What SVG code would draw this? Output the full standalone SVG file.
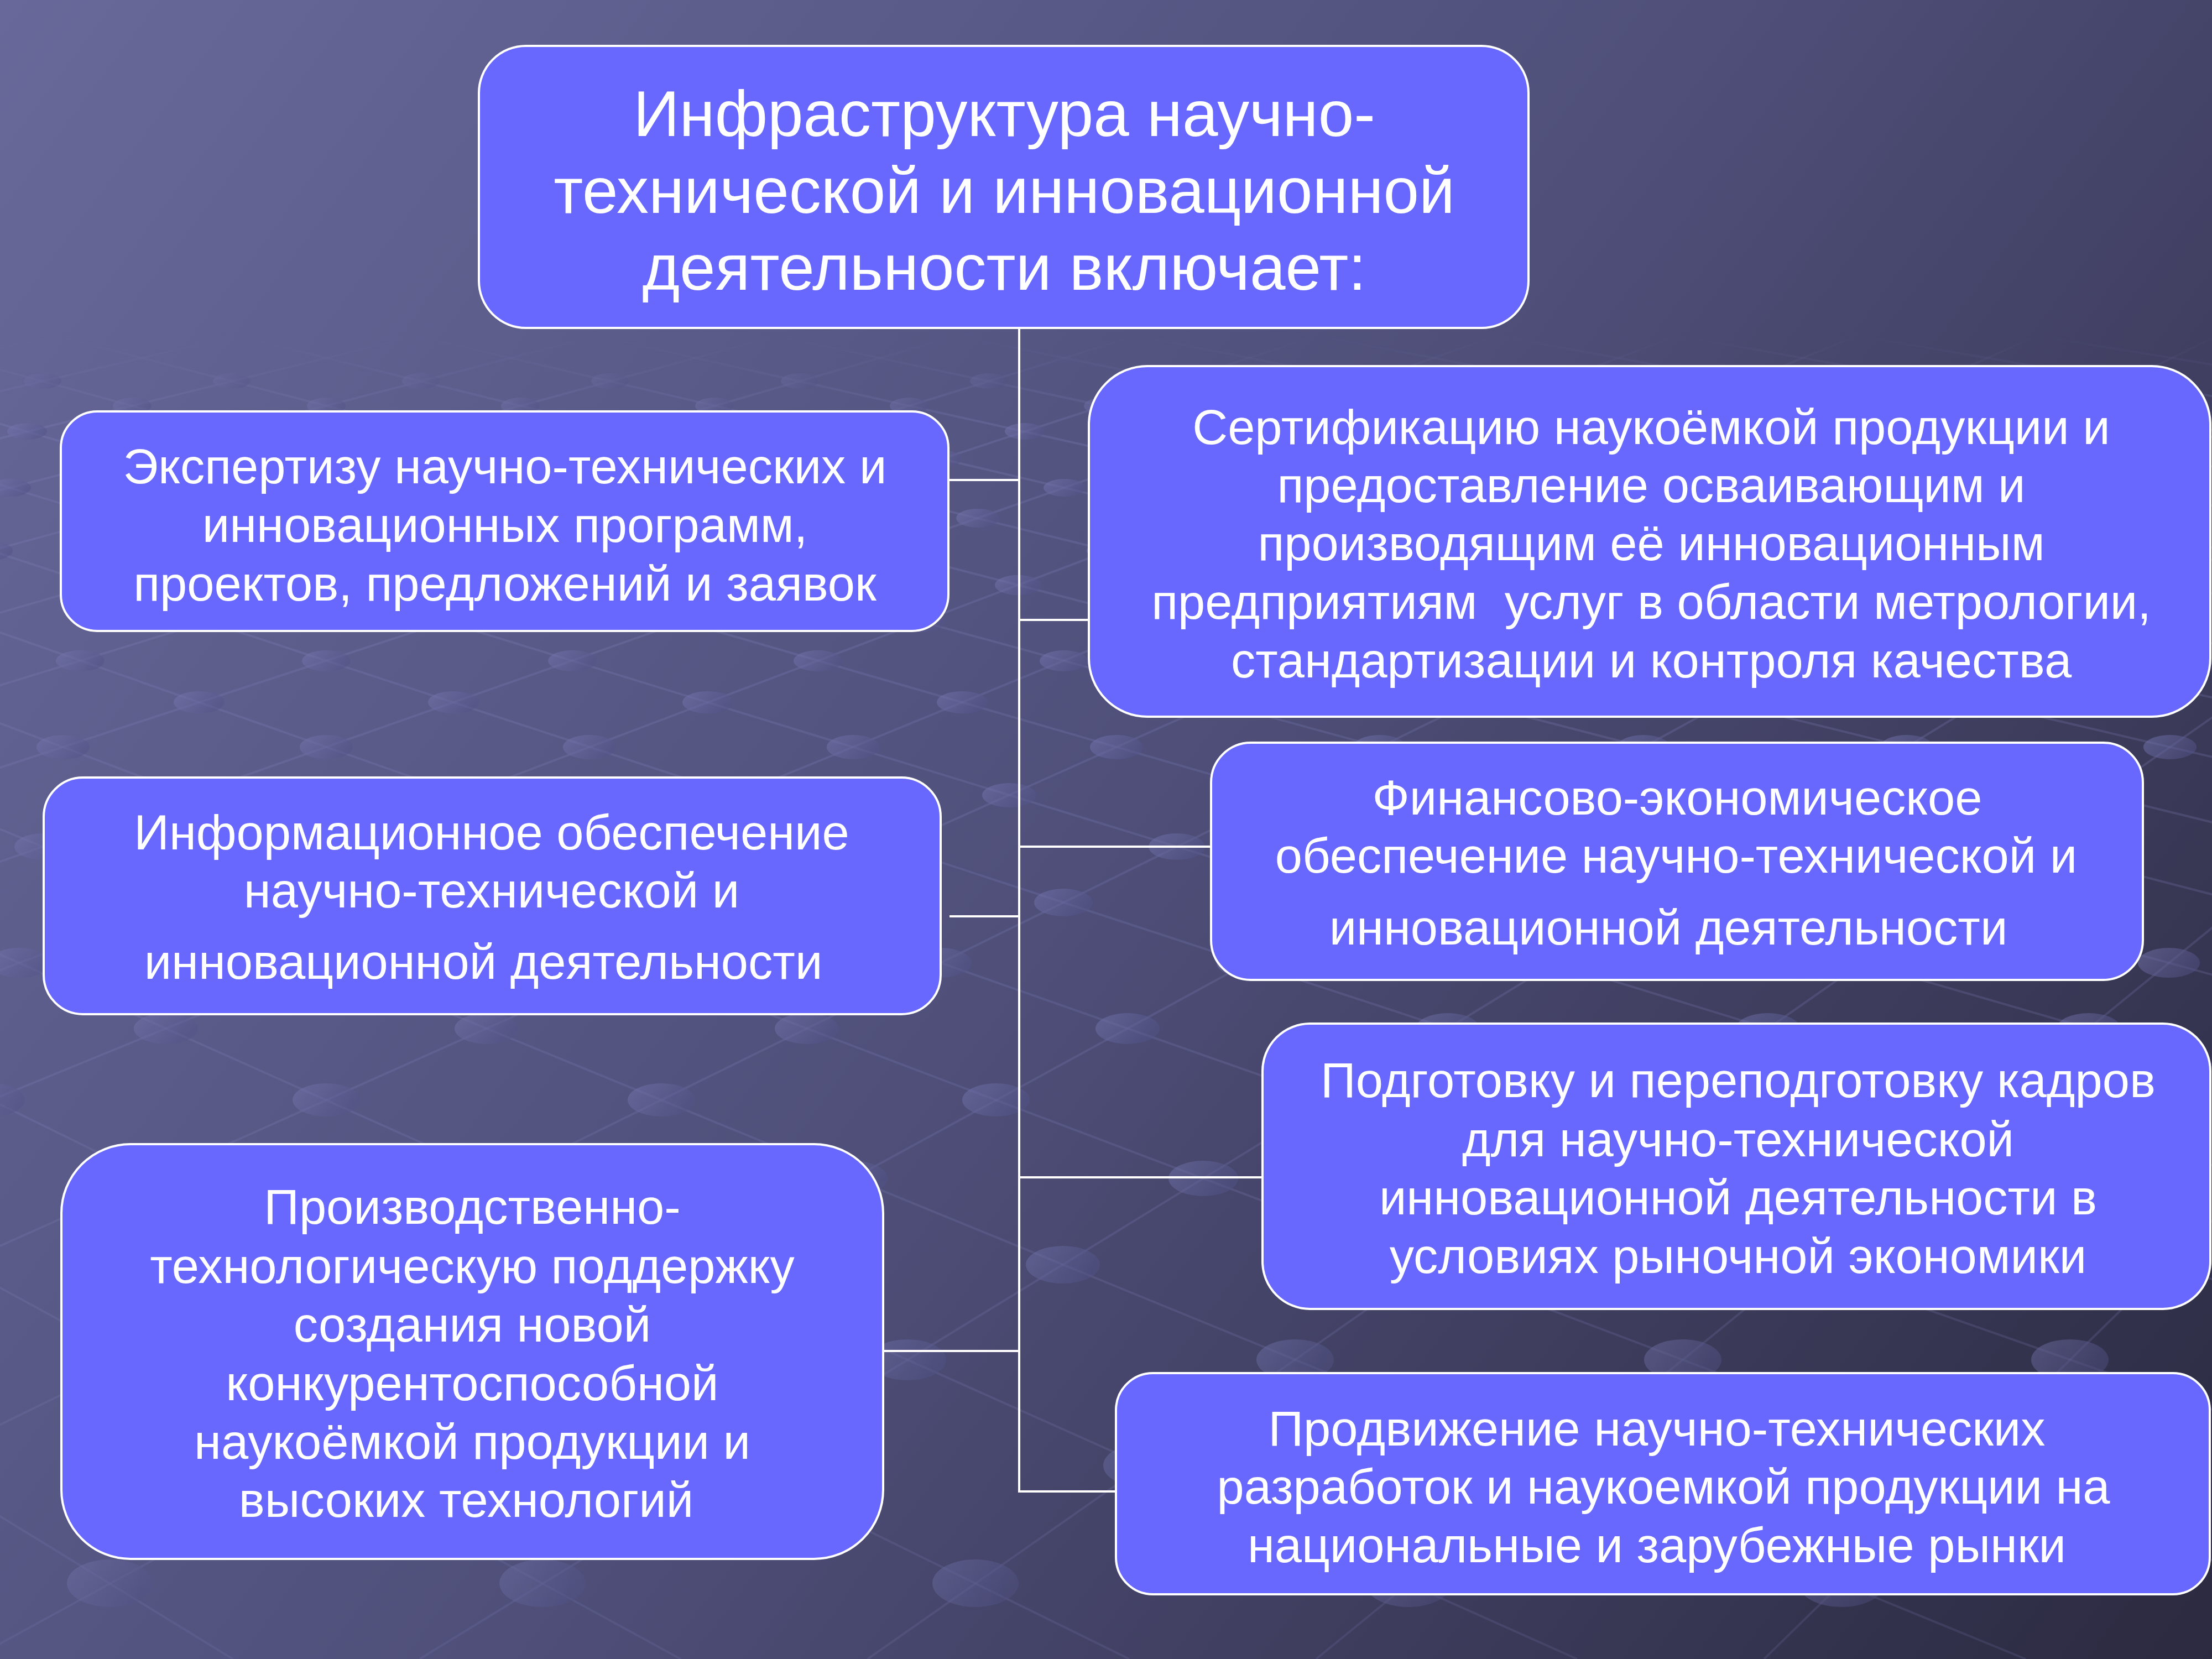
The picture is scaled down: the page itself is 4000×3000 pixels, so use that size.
<svg xmlns="http://www.w3.org/2000/svg" width="4000" height="3000" viewBox="0 0 4000 3000">
<defs>
<style>
.box{fill:#6868ff;stroke:#ffffff;stroke-width:4}
.t{font-family:"Liberation Sans",Arial,sans-serif;font-size:88.5px;fill:#ffffff;text-anchor:middle}
.tt{font-size:116px}
.conn{stroke:#ffffff;stroke-width:4;fill:none}
.lat{stroke:#8383c0;stroke-opacity:0.25;stroke-width:4;fill:none}
.nodes ellipse{fill:url(#ng);fill-opacity:0.55}
</style>
<linearGradient id="bg" gradientUnits="userSpaceOnUse" x1="0" y1="0" x2="4000" y2="3000">
<stop offset="0" stop-color="#68699a"/>
<stop offset="0.5" stop-color="#4f4f7a"/>
<stop offset="1" stop-color="#2b2a40"/>
</linearGradient>
<linearGradient id="ng" x1="0" y1="0" x2="1" y2="0.4">
<stop offset="0" stop-color="#7a7ab4"/>
<stop offset="1" stop-color="#54548a"/>
</linearGradient>
<linearGradient id="fg" gradientUnits="userSpaceOnUse" x1="0" y1="600" x2="0" y2="3000">
<stop offset="0" stop-color="#000"/>
<stop offset="0.07" stop-color="#fff"/>
<stop offset="0.6" stop-color="#ddd"/>
<stop offset="1" stop-color="#aaa"/>
</linearGradient>
<mask id="fade" maskUnits="userSpaceOnUse" x="0" y="0" width="4000" height="3000">
<rect width="4000" height="3000" fill="url(#fg)"/>
</mask>
</defs>
<rect width="4000" height="3000" fill="url(#bg)"/>
<g id="background-lattice" mask="url(#fade)">
<path class="lat" d="M-6101,-1000L421,3000M-6101,-1000L1231,3000M-6101,-1000L2042,3000M-6101,-1000L2852,3000M-6101,-1000L3663,3000M-6101,-1000L4473,3000M-6101,-1000L5284,3000M-6101,-1000L6094,3000M-6101,-1000L6904,3000M-6101,-1000L7715,3000M-6101,-1000L8525,3000M-6101,-1000L9336,3000M-6101,-1000L10146,3000M-6101,-1000L10956,3000M-6101,-1000L11767,3000M-6101,-1000L12577,3000M-6101,-1000L13388,3000M-6101,-1000L14198,3000M-6101,-1000L15008,3000M-6101,-1000L15819,3000M-6101,-1000L16629,3000M-6101,-1000L17440,3000M-6101,-1000L18250,3000M-6101,-1000L19060,3000"/>
<path class="lat" d="M7281,-1000L4000,3000M7281,-1000L3190,3000M7281,-1000L2380,3000M7281,-1000L1569,3000M7281,-1000L759,3000M7281,-1000L-51,3000M7281,-1000L-862,3000M7281,-1000L-1672,3000M7281,-1000L-2483,3000M7281,-1000L-3293,3000M7281,-1000L-4104,3000M7281,-1000L-4914,3000M7281,-1000L-5725,3000M7281,-1000L-6535,3000M7281,-1000L-7345,3000M7281,-1000L-8156,3000M7281,-1000L-8966,3000M7281,-1000L-9777,3000M7281,-1000L-10587,3000"/>
<g class="nodes">
<ellipse cx="77" cy="689" rx="34" ry="14"/><ellipse cx="419" cy="689" rx="34" ry="14"/><ellipse cx="761" cy="689" rx="34" ry="14"/><ellipse cx="1103" cy="689" rx="34" ry="14"/><ellipse cx="1446" cy="689" rx="34" ry="14"/><ellipse cx="1788" cy="689" rx="34" ry="14"/><ellipse cx="2130" cy="689" rx="34" ry="14"/><ellipse cx="2473" cy="689" rx="34" ry="14"/><ellipse cx="2815" cy="689" rx="34" ry="14"/><ellipse cx="3157" cy="689" rx="34" ry="14"/><ellipse cx="3500" cy="689" rx="34" ry="14"/><ellipse cx="3842" cy="689" rx="34" ry="14"/>
<ellipse cx="239" cy="734" rx="35" ry="15"/><ellipse cx="590" cy="734" rx="35" ry="15"/><ellipse cx="941" cy="734" rx="35" ry="15"/><ellipse cx="1292" cy="734" rx="35" ry="15"/><ellipse cx="1644" cy="734" rx="35" ry="15"/><ellipse cx="1995" cy="734" rx="35" ry="15"/><ellipse cx="2346" cy="734" rx="35" ry="15"/><ellipse cx="2697" cy="734" rx="35" ry="15"/><ellipse cx="3048" cy="734" rx="35" ry="15"/><ellipse cx="3400" cy="734" rx="35" ry="15"/><ellipse cx="3751" cy="734" rx="35" ry="15"/>
<ellipse cx="49" cy="780" rx="36" ry="15"/><ellipse cx="410" cy="780" rx="36" ry="15"/><ellipse cx="770" cy="780" rx="36" ry="15"/><ellipse cx="1131" cy="780" rx="36" ry="15"/><ellipse cx="1492" cy="780" rx="36" ry="15"/><ellipse cx="1853" cy="780" rx="36" ry="15"/><ellipse cx="2213" cy="780" rx="36" ry="15"/><ellipse cx="2574" cy="780" rx="36" ry="15"/><ellipse cx="2935" cy="780" rx="36" ry="15"/><ellipse cx="3295" cy="780" rx="36" ry="15"/><ellipse cx="3656" cy="780" rx="36" ry="15"/>
<ellipse cx="219" cy="830" rx="37" ry="16"/><ellipse cx="590" cy="830" rx="37" ry="16"/><ellipse cx="961" cy="830" rx="37" ry="16"/><ellipse cx="1331" cy="830" rx="37" ry="16"/><ellipse cx="1702" cy="830" rx="37" ry="16"/><ellipse cx="2073" cy="830" rx="37" ry="16"/><ellipse cx="2444" cy="830" rx="37" ry="16"/><ellipse cx="2814" cy="830" rx="37" ry="16"/><ellipse cx="3185" cy="830" rx="37" ry="16"/><ellipse cx="3556" cy="830" rx="37" ry="16"/><ellipse cx="3926" cy="830" rx="37" ry="16"/>
<ellipse cx="18" cy="882" rx="38" ry="16"/><ellipse cx="399" cy="882" rx="38" ry="16"/><ellipse cx="781" cy="882" rx="38" ry="16"/><ellipse cx="1162" cy="882" rx="38" ry="16"/><ellipse cx="1543" cy="882" rx="38" ry="16"/><ellipse cx="1925" cy="882" rx="38" ry="16"/><ellipse cx="2306" cy="882" rx="38" ry="16"/><ellipse cx="2687" cy="882" rx="38" ry="16"/><ellipse cx="3068" cy="882" rx="38" ry="16"/><ellipse cx="3450" cy="882" rx="38" ry="16"/><ellipse cx="3831" cy="882" rx="38" ry="16"/>
<ellipse cx="198" cy="937" rx="39" ry="17"/><ellipse cx="590" cy="937" rx="39" ry="17"/><ellipse cx="983" cy="937" rx="39" ry="17"/><ellipse cx="1375" cy="937" rx="39" ry="17"/><ellipse cx="1768" cy="937" rx="39" ry="17"/><ellipse cx="2160" cy="937" rx="39" ry="17"/><ellipse cx="2553" cy="937" rx="39" ry="17"/><ellipse cx="2945" cy="937" rx="39" ry="17"/><ellipse cx="3338" cy="937" rx="39" ry="17"/><ellipse cx="3730" cy="937" rx="39" ry="17"/>
<ellipse cx="-17" cy="996" rx="40" ry="17"/><ellipse cx="388" cy="996" rx="40" ry="17"/><ellipse cx="792" cy="996" rx="40" ry="17"/><ellipse cx="1197" cy="996" rx="40" ry="17"/><ellipse cx="1601" cy="996" rx="40" ry="17"/><ellipse cx="2005" cy="996" rx="40" ry="17"/><ellipse cx="2409" cy="996" rx="40" ry="17"/><ellipse cx="2814" cy="996" rx="40" ry="17"/><ellipse cx="3218" cy="996" rx="40" ry="17"/><ellipse cx="3622" cy="996" rx="40" ry="17"/>
<ellipse cx="173" cy="1058" rx="42" ry="18"/><ellipse cx="590" cy="1058" rx="42" ry="18"/><ellipse cx="1007" cy="1058" rx="42" ry="18"/><ellipse cx="1424" cy="1058" rx="42" ry="18"/><ellipse cx="1841" cy="1058" rx="42" ry="18"/><ellipse cx="2258" cy="1058" rx="42" ry="18"/><ellipse cx="2675" cy="1058" rx="42" ry="18"/><ellipse cx="3091" cy="1058" rx="42" ry="18"/><ellipse cx="3508" cy="1058" rx="42" ry="18"/><ellipse cx="3925" cy="1058" rx="42" ry="18"/>
<ellipse cx="375" cy="1124" rx="43" ry="19"/><ellipse cx="805" cy="1124" rx="43" ry="19"/><ellipse cx="1236" cy="1124" rx="43" ry="19"/><ellipse cx="1666" cy="1124" rx="43" ry="19"/><ellipse cx="2096" cy="1124" rx="43" ry="19"/><ellipse cx="2526" cy="1124" rx="43" ry="19"/><ellipse cx="2957" cy="1124" rx="43" ry="19"/><ellipse cx="3387" cy="1124" rx="43" ry="19"/><ellipse cx="3817" cy="1124" rx="43" ry="19"/>
<ellipse cx="145" cy="1195" rx="44" ry="19"/><ellipse cx="590" cy="1195" rx="44" ry="19"/><ellipse cx="1035" cy="1195" rx="44" ry="19"/><ellipse cx="1479" cy="1195" rx="44" ry="19"/><ellipse cx="1924" cy="1195" rx="44" ry="19"/><ellipse cx="2368" cy="1195" rx="44" ry="19"/><ellipse cx="2813" cy="1195" rx="44" ry="19"/><ellipse cx="3258" cy="1195" rx="44" ry="19"/><ellipse cx="3702" cy="1195" rx="44" ry="19"/>
<ellipse cx="360" cy="1270" rx="46" ry="20"/><ellipse cx="820" cy="1270" rx="46" ry="20"/><ellipse cx="1280" cy="1270" rx="46" ry="20"/><ellipse cx="1740" cy="1270" rx="46" ry="20"/><ellipse cx="2200" cy="1270" rx="46" ry="20"/><ellipse cx="2660" cy="1270" rx="46" ry="20"/><ellipse cx="3120" cy="1270" rx="46" ry="20"/><ellipse cx="3580" cy="1270" rx="46" ry="20"/>
<ellipse cx="114" cy="1351" rx="48" ry="22"/><ellipse cx="590" cy="1351" rx="48" ry="22"/><ellipse cx="1066" cy="1351" rx="48" ry="22"/><ellipse cx="1543" cy="1351" rx="48" ry="22"/><ellipse cx="2019" cy="1351" rx="48" ry="22"/><ellipse cx="2495" cy="1351" rx="48" ry="22"/><ellipse cx="2972" cy="1351" rx="48" ry="22"/><ellipse cx="3448" cy="1351" rx="48" ry="22"/><ellipse cx="3924" cy="1351" rx="48" ry="22"/>
<ellipse cx="343" cy="1438" rx="49" ry="22"/><ellipse cx="837" cy="1438" rx="49" ry="22"/><ellipse cx="1331" cy="1438" rx="49" ry="22"/><ellipse cx="1825" cy="1438" rx="49" ry="22"/><ellipse cx="2318" cy="1438" rx="49" ry="22"/><ellipse cx="2812" cy="1438" rx="49" ry="22"/><ellipse cx="3306" cy="1438" rx="49" ry="22"/><ellipse cx="3800" cy="1438" rx="49" ry="22"/>
<ellipse cx="77" cy="1531" rx="51" ry="24"/><ellipse cx="590" cy="1531" rx="51" ry="24"/><ellipse cx="1103" cy="1531" rx="51" ry="24"/><ellipse cx="1616" cy="1531" rx="51" ry="24"/><ellipse cx="2128" cy="1531" rx="51" ry="24"/><ellipse cx="2641" cy="1531" rx="51" ry="24"/><ellipse cx="3154" cy="1531" rx="51" ry="24"/><ellipse cx="3667" cy="1531" rx="51" ry="24"/>
<ellipse cx="323" cy="1632" rx="53" ry="25"/><ellipse cx="857" cy="1632" rx="53" ry="25"/><ellipse cx="1390" cy="1632" rx="53" ry="25"/><ellipse cx="1923" cy="1632" rx="53" ry="25"/><ellipse cx="2456" cy="1632" rx="53" ry="25"/><ellipse cx="2989" cy="1632" rx="53" ry="25"/><ellipse cx="3523" cy="1632" rx="53" ry="25"/>
<ellipse cx="35" cy="1741" rx="56" ry="27"/><ellipse cx="590" cy="1741" rx="56" ry="27"/><ellipse cx="1145" cy="1741" rx="56" ry="27"/><ellipse cx="1701" cy="1741" rx="56" ry="27"/><ellipse cx="2256" cy="1741" rx="56" ry="27"/><ellipse cx="2811" cy="1741" rx="56" ry="27"/><ellipse cx="3367" cy="1741" rx="56" ry="27"/><ellipse cx="3922" cy="1741" rx="56" ry="27"/>
<ellipse cx="300" cy="1860" rx="58" ry="28"/><ellipse cx="880" cy="1860" rx="58" ry="28"/><ellipse cx="1459" cy="1860" rx="58" ry="28"/><ellipse cx="2039" cy="1860" rx="58" ry="28"/><ellipse cx="2618" cy="1860" rx="58" ry="28"/><ellipse cx="3197" cy="1860" rx="58" ry="28"/><ellipse cx="3777" cy="1860" rx="58" ry="28"/>
<ellipse cx="-16" cy="1989" rx="61" ry="30"/><ellipse cx="590" cy="1989" rx="61" ry="30"/><ellipse cx="1196" cy="1989" rx="61" ry="30"/><ellipse cx="1801" cy="1989" rx="61" ry="30"/><ellipse cx="2407" cy="1989" rx="61" ry="30"/><ellipse cx="3012" cy="1989" rx="61" ry="30"/><ellipse cx="3618" cy="1989" rx="61" ry="30"/>
<ellipse cx="273" cy="2131" rx="63" ry="32"/><ellipse cx="907" cy="2131" rx="63" ry="32"/><ellipse cx="1542" cy="2131" rx="63" ry="32"/><ellipse cx="2176" cy="2131" rx="63" ry="32"/><ellipse cx="2810" cy="2131" rx="63" ry="32"/><ellipse cx="3444" cy="2131" rx="63" ry="32"/>
<ellipse cx="590" cy="2287" rx="67" ry="34"/><ellipse cx="1256" cy="2287" rx="67" ry="34"/><ellipse cx="1922" cy="2287" rx="67" ry="34"/><ellipse cx="2587" cy="2287" rx="67" ry="34"/><ellipse cx="3253" cy="2287" rx="67" ry="34"/><ellipse cx="3919" cy="2287" rx="67" ry="34"/>
<ellipse cx="240" cy="2459" rx="70" ry="37"/><ellipse cx="940" cy="2459" rx="70" ry="37"/><ellipse cx="1641" cy="2459" rx="70" ry="37"/><ellipse cx="2342" cy="2459" rx="70" ry="37"/><ellipse cx="3043" cy="2459" rx="70" ry="37"/><ellipse cx="3743" cy="2459" rx="70" ry="37"/>
<ellipse cx="590" cy="2650" rx="74" ry="40"/><ellipse cx="1330" cy="2650" rx="74" ry="40"/><ellipse cx="2069" cy="2650" rx="74" ry="40"/><ellipse cx="2809" cy="2650" rx="74" ry="40"/><ellipse cx="3548" cy="2650" rx="74" ry="40"/>
<ellipse cx="199" cy="2863" rx="78" ry="43"/><ellipse cx="981" cy="2863" rx="78" ry="43"/><ellipse cx="1764" cy="2863" rx="78" ry="43"/><ellipse cx="2547" cy="2863" rx="78" ry="43"/><ellipse cx="3330" cy="2863" rx="78" ry="43"/>
</g>
</g>
<g id="connectors">
<line class="conn" x1="1843" y1="593" x2="1843" y2="2699"/>
<line class="conn" x1="1715" y1="868" x2="1843" y2="868"/>
<line class="conn" x1="1717" y1="1657" x2="1843" y2="1657"/>
<line class="conn" x1="1597" y1="2443" x2="1843" y2="2443"/>
<line class="conn" x1="1843" y1="1121" x2="1969" y2="1121"/>
<line class="conn" x1="1843" y1="1531" x2="2190" y2="1531"/>
<line class="conn" x1="1843" y1="2129" x2="2283" y2="2129"/>
<line class="conn" x1="1843" y1="2697" x2="2018" y2="2697"/>
</g>
<g id="title">
<rect class="box" x="866" y="83" width="1898" height="510" rx="85" ry="85"/>
<text class="t tt" x="1816" y="246">Инфраструктура научно-</text>
<text class="t tt" x="1816" y="385">технической и инновационной</text>
<text class="t tt" x="1816" y="524">деятельности включает:</text>
</g>
<g id="expertise">
<rect class="box" x="110" y="744" width="1605" height="397" rx="66" ry="66"/>
<text class="t" x="913" y="874">Экспертизу научно-технических и</text>
<text class="t" x="913" y="980">инновационных программ,</text>
<text class="t" x="913" y="1086">проектов, предложений и заявок</text>
</g>
<g id="information">
<rect class="box" x="79" y="1406" width="1622" height="428" rx="71" ry="71"/>
<text class="t" x="889" y="1536">Информационное обеспечение</text>
<text class="t" x="889" y="1641">научно-технической и</text>
<text class="t" x="874" y="1770">инновационной деятельности</text>
</g>
<g id="production">
<rect class="box" x="111" y="2069" width="1486" height="750" rx="125" ry="125"/>
<text class="t" x="854" y="2213">Производственно-</text>
<text class="t" x="854" y="2320">технологическую поддержку</text>
<text class="t" x="854" y="2426">создания новой</text>
<text class="t" x="854" y="2532">конкурентоспособной</text>
<text class="t" x="854" y="2638">наукоёмкой продукции и</text>
<text class="t" x="843" y="2743">высоких технологий</text>
</g>
<g id="certification">
<rect class="box" x="1969" y="662" width="2028" height="634" rx="106" ry="106"/>
<text class="t" x="2986" y="803">Сертификацию наукоёмкой продукции и</text>
<text class="t" x="2986" y="908">предоставление осваивающим и</text>
<text class="t" x="2986" y="1013">производящим её инновационным</text>
<text class="t" x="2986" y="1119" xml:space="preserve">предприятиям  услуг в области метрологии,</text>
<text class="t" x="2986" y="1225">стандартизации и контроля качества</text>
</g>
<g id="finance">
<rect class="box" x="2190" y="1343" width="1685" height="429" rx="72" ry="72"/>
<text class="t" x="3033" y="1473">Финансово-экономическое</text>
<text class="t" x="3031" y="1578">обеспечение научно-технической и</text>
<text class="t" x="3017" y="1708">инновационной деятельности</text>
</g>
<g id="training">
<rect class="box" x="2283" y="1851" width="1714" height="516" rx="86" ry="86"/>
<text class="t" x="3143" y="1984">Подготовку и переподготовку кадров</text>
<text class="t" x="3143" y="2091">для научно-технической</text>
<text class="t" x="3143" y="2196">инновационной деятельности в</text>
<text class="t" x="3143" y="2302">условиях рыночной экономики</text>
</g>
<g id="promotion">
<rect class="box" x="2018" y="2483" width="1978" height="400" rx="67" ry="67"/>
<text class="t" x="2996" y="2614">Продвижение научно-технических</text>
<text class="t" x="3008" y="2719">разработок и наукоемкой продукции на</text>
<text class="t" x="2996" y="2825">национальные и зарубежные рынки</text>
</g>
</svg>
